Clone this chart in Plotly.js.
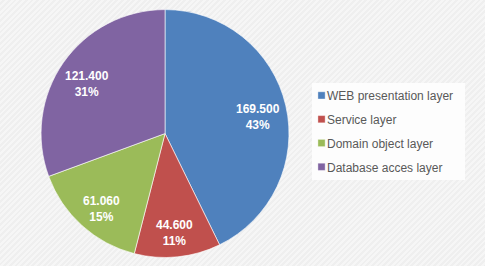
<!DOCTYPE html>
<html>
<head>
<meta charset="utf-8">
<script src="https://cdn.plot.ly/plotly-3.0.1.min.js"></script>
<style>
  html, body { margin: 0; padding: 0; }
  body {
    width: 485px; height: 266px; overflow: hidden;
    background: repeating-linear-gradient(135deg, #f6f6f6 0px, #f6f6f6 2px, #efefef 2px, #efefef 4px);
  }
  #chart { width: 485px; height: 266px; }
</style>
</head>
<body>
<div id="chart"></div>
<script>
// Lines of code per application layer
const layers = ['WEB presentation layer', 'Service layer', 'Domain object layer', 'Database acces layer'];
const lines = [169500, 44600, 61060, 121400];
const sliceColors = ['#4f81bd', '#c0504d', '#9bbb59', '#8064a2'];

const W = 485, H = 266;
const pieDomain = { x: [0.0845, 0.596], y: [0.032, 0.964] };

const slices = {
  type: 'pie',
  labels: layers.map(l => '<span style="font-size:12px">' + l + '</span>'),
  values: lines,
  sort: false,
  direction: 'clockwise',
  rotation: 0,
  domain: pieDomain,
  marker: { colors: sliceColors, line: { color: 'rgba(255,255,255,0.6)', width: 1 } },
  textinfo: 'none',
  hoverinfo: 'none'
};

// Data labels: value and share, placed on each slice's bisector, out toward the rim
const total = lines.reduce((a, b) => a + b, 0);
const cx = (pieDomain.x[0] + pieDomain.x[1]) / 2;
const cy = (pieDomain.y[0] + pieDomain.y[1]) / 2;
const rPx = Math.min((pieDomain.x[1] - pieDomain.x[0]) * W, (pieDomain.y[1] - pieDomain.y[0]) * H) / 2;
const labelRadius = 0.77;
let cum = 0;
const dataLabels = lines.map(v => {
  const mid = (cum + v / 2) / total * 2 * Math.PI;   // clockwise from 12 o'clock
  cum += v;
  return {
    xref: 'paper', yref: 'paper',
    x: cx + labelRadius * rPx * Math.sin(mid) / W,
    y: cy + labelRadius * rPx * Math.cos(mid) / H,
    xanchor: 'center', yanchor: 'middle',
    yshift: -5,
    text: v.toLocaleString('de-DE') + '<br>' + Math.round(v / total * 100) + '%',
    showarrow: false,
    align: 'center',
    font: { family: 'Liberation Sans, Arial, sans-serif', size: 12, color: '#ffffff', weight: 'bold' }
  };
});

const layout = {
  width: W,
  height: H,
  margin: { l: 0, r: 0, t: 0, b: 0 },
  paper_bgcolor: 'rgba(0,0,0,0)',
  plot_bgcolor: 'rgba(0,0,0,0)',
  showlegend: true,
  annotations: dataLabels,
  shapes: [{
    type: 'rect', xref: 'paper', yref: 'paper', layer: 'below',
    x0: 312 / W, x1: 465 / W, y0: 1 - 180 / H, y1: 1 - 83 / H,
    fillcolor: '#fdfdfd', line: { width: 0 }
  }],
  legend: {
    x: 0.5918, y: 0.7105, xanchor: 'left', yanchor: 'top',
    bgcolor: 'rgba(0,0,0,0)',
    borderwidth: 0,
    font: { family: 'Liberation Sans, Arial, sans-serif', size: 16, color: '#595959' }
  }
};

Plotly.newPlot('chart', [slices], layout, { displayModeBar: false, staticPlot: true })
  .then(gd => {
    // small square legend keys sitting right before the text
    gd.querySelectorAll('.legendpoints path.legendpie').forEach(p => {
      p.setAttribute('transform', 'translate(34.5,1.5) scale(0.6)');
    });
  });
</script>
</body>
</html>
